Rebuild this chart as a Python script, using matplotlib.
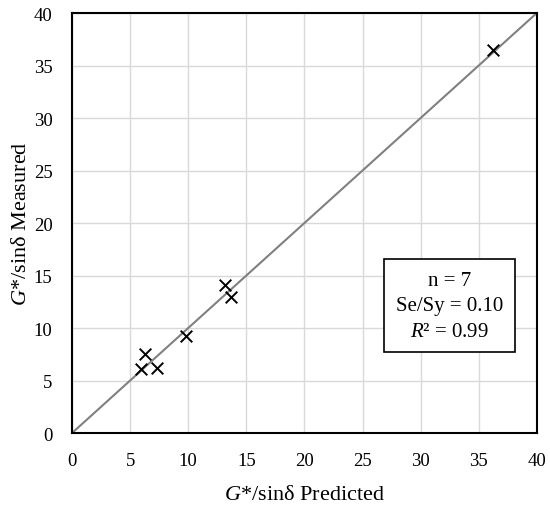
import matplotlib
matplotlib.use("Agg")
import matplotlib.pyplot as plt

# data
predicted = [5.9, 6.3, 7.3, 9.8, 13.2, 13.7, 36.2]
measured = [6.1, 7.5, 6.2, 9.2, 14.1, 13.0, 36.5]
ticks = [0, 5, 10, 15, 20, 25, 30, 35, 40]
stats_lines = ["n = 7", "Se/Sy = 0.10", "$R$² = 0.99"]

plt.rcParams["font.family"] = ["Liberation Serif", "DejaVu Serif"]
plt.rcParams["mathtext.fontset"] = "custom"
plt.rcParams["mathtext.rm"] = "Liberation Serif"
plt.rcParams["mathtext.it"] = "Liberation Serif:italic"

fig = plt.figure(figsize=(5.5, 5.1), dpi=100)
ax = fig.add_axes([0.131, 0.149, 0.845, 0.8235])

ax.plot([0, 40], [0, 40], color="#808080", linewidth=1.5, zorder=2)
ax.scatter(predicted, measured, marker="x", s=70, color="black",
           linewidths=1.4, zorder=3)

ax.set_xlim(0, 40)
ax.set_ylim(0, 40)
ax.set_xticks(ticks)
ax.set_yticks(ticks)
ax.tick_params(length=0, labelsize=13.5)
ax.tick_params(axis="x", pad=14)
ax.tick_params(axis="y", pad=14)
ax.grid(color="#d9d9d9", linewidth=1.0, zorder=0)
ax.set_axisbelow(True)
for sp in ax.spines.values():
    sp.set_linewidth(1.5)
    sp.set_color("black")

ax.set_xlabel("$G$*/sinδ Predicted", fontsize=16, labelpad=11)
ax.set_ylabel("$G$*/sinδ Measured", fontsize=16, labelpad=2)

ax.text(0.812, 0.303, "\n".join(stats_lines), transform=ax.transAxes,
        ha="center", va="center", fontsize=15, linespacing=1.45,
        bbox=dict(boxstyle="square,pad=0.55", facecolor="white",
                  edgecolor="black", linewidth=1.2), zorder=4)

fig.savefig("out.png", dpi=100)
